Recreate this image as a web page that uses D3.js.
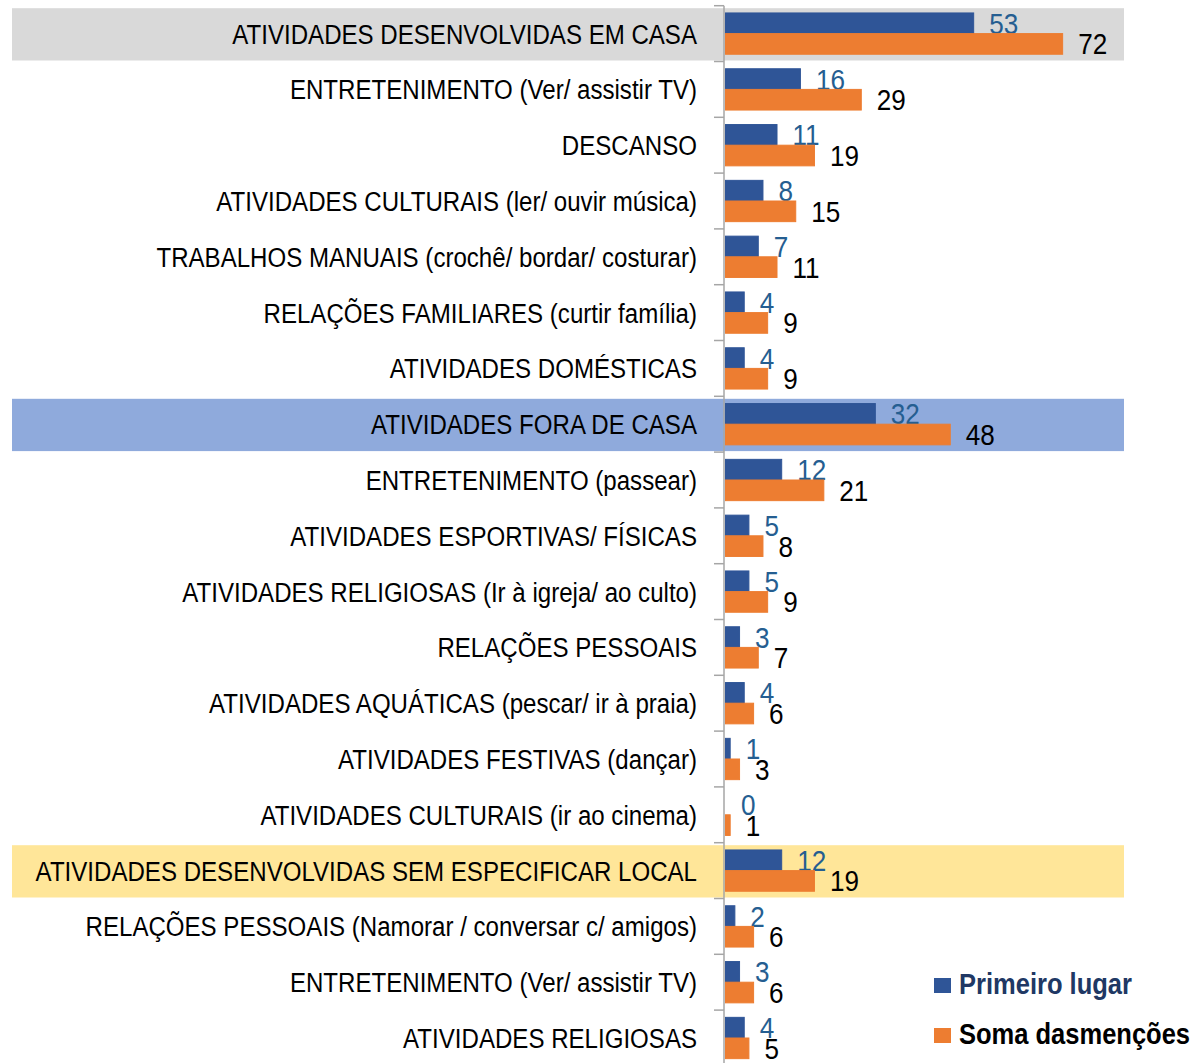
<!DOCTYPE html>
<html>
<head>
<meta charset="utf-8">
<script src="https://cdn.jsdelivr.net/npm/d3@7"></script>
<style>
  body { margin: 0; background: #fff; }
  text { font-family: "Liberation Sans Narrow", "Arial Narrow", "Liberation Sans", Arial, sans-serif; }
</style>
</head>
<body>
<script>
const categories = [
  "ATIVIDADES DESENVOLVIDAS EM CASA",
  "ENTRETENIMENTO (Ver/ assistir TV)",
  "DESCANSO",
  "ATIVIDADES CULTURAIS (ler/ ouvir música)",
  "TRABALHOS MANUAIS (crochê/ bordar/ costurar)",
  "RELAÇÕES FAMILIARES (curtir família)",
  "ATIVIDADES DOMÉSTICAS",
  "ATIVIDADES FORA DE CASA",
  "ENTRETENIMENTO (passear)",
  "ATIVIDADES ESPORTIVAS/ FÍSICAS",
  "ATIVIDADES RELIGIOSAS (Ir à igreja/ ao culto)",
  "RELAÇÕES PESSOAIS",
  "ATIVIDADES AQUÁTICAS (pescar/ ir à praia)",
  "ATIVIDADES FESTIVAS (dançar)",
  "ATIVIDADES CULTURAIS (ir ao cinema)",
  "ATIVIDADES DESENVOLVIDAS SEM ESPECIFICAR LOCAL",
  "RELAÇÕES PESSOAIS (Namorar / conversar c/ amigos)",
  "ENTRETENIMENTO (Ver/ assistir TV)",
  "ATIVIDADES RELIGIOSAS"
];
const primeiroLugar = [53, 16, 11, 8, 7, 4, 4, 32, 12, 5, 5, 3, 4, 1, 0, 12, 2, 3, 4];
const somaMencoes   = [72, 29, 19, 15, 11, 9, 9, 48, 21, 8, 9, 7, 6, 3, 1, 19, 6, 6, 5];
const seriesNames = ["Primeiro lugar", "Soma dasmenções"];
// group header rows and their highlight colour
const highlightRows = [0, 7, 15];
const highlightColors = ["#d9d9d9", "#8faadc", "#ffe699"];

const width = 1199, height = 1063;
const axisX = 724;
// no narrow font installed, so squeeze the regular one
const narrow = 0.86;

const svg = d3.select("body").append("svg")
    .attr("width", width)
    .attr("height", height);

const rows = categories.map((c, i) => ({ i: i, name: c, a: primeiroLugar[i], b: somaMencoes[i] }));

const y = d3.scaleBand()
    .domain(d3.range(categories.length))
    .range([5.7, 5.7 + 55.8 * categories.length])
    .paddingInner(0.26)
    .paddingOuter(0.13);
const step = y.step();

const yInner = d3.scaleBand()
    .domain([0, 1])
    .range([0, y.bandwidth()]);

const x = d3.scaleLinear().domain([0, 85]).range([axisX + 1, 1123]);

// highlight stripes
svg.selectAll(".hl")
    .data(highlightRows)
    .enter().append("rect")
    .attr("class", "hl")
    .attr("x", 12)
    .attr("width", 1124 - 12)
    .attr("y", d => y(d) - step * 0.13 + 2.5)
    .attr("height", step - 3.5)
    .attr("fill", (d, i) => highlightColors[i]);

// category labels
svg.selectAll(".cat")
    .data(rows)
    .enter().append("text")
    .attr("class", "cat")
    .attr("transform", d => "translate(697," + (y(d.i) + y.bandwidth() / 2) + ") scale(" + narrow + ",1)")
    .attr("dy", "0.36em")
    .attr("text-anchor", "end")
    .attr("font-size", 28)
    .attr("fill", "#000")
    .text(d => d.name);

// axis line with ticks between categories
svg.append("line")
    .attr("x1", axisX).attr("x2", axisX)
    .attr("y1", y.range()[0]).attr("y2", y.range()[1])
    .attr("stroke", "#a6a6a6").attr("stroke-width", 1.5);
svg.selectAll(".tick")
    .data(d3.range(categories.length + 1))
    .enter().append("line")
    .attr("x1", axisX - 10).attr("x2", axisX)
    .attr("y1", d => y.range()[0] + d * step)
    .attr("y2", d => y.range()[0] + d * step)
    .attr("stroke", "#a6a6a6").attr("stroke-width", 1.5);

// bars
const barColors = ["#2f5597", "#ed7d31"];
const labelColors = ["#255e91", "#000"];
const g = svg.selectAll(".row")
    .data(rows)
    .enter().append("g")
    .attr("class", "row")
    .attr("transform", d => "translate(0," + y(d.i) + ")");

[0, 1].forEach(s => {
    const val = d => s === 0 ? d.a : d.b;
    g.append("rect")
        .attr("x", x(0) + 0.5)
        .attr("y", yInner(s))
        .attr("width", d => Math.max(x(val(d)) - x(0), 0))
        .attr("height", yInner.bandwidth())
        .attr("fill", barColors[s])
        .attr("stroke", barColors[s])
        .attr("stroke-width", 1);
    g.append("text")
        .attr("transform", d => "translate(" + (x(val(d)) + 16) + "," + (yInner(s) + yInner.bandwidth() / 2) + ") scale(0.9,1)")
        .attr("dy", "0.36em")
        .attr("font-size", 29)
        .attr("fill", labelColors[s])
        .text(d => val(d));
});

// legend
const legend = svg.selectAll(".legend")
    .data(seriesNames)
    .enter().append("g")
    .attr("class", "legend")
    .attr("transform", (d, i) => "translate(934," + (978 + i * 50) + ")");
legend.append("rect")
    .attr("width", 17).attr("height", 15)
    .attr("fill", (d, i) => barColors[i]);
legend.append("text")
    .attr("transform", "translate(25,16) scale(0.88,1)")
    .attr("font-size", 29)
    .attr("font-weight", "bold")
    .attr("fill", (d, i) => i === 0 ? "#203864" : "#000")
    .text(d => d);
</script>
</body>
</html>
